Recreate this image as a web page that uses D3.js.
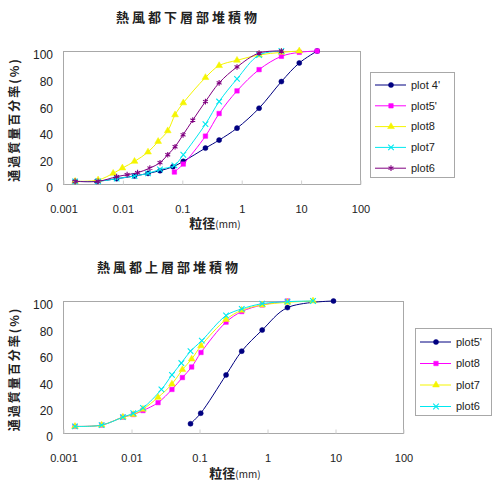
<!DOCTYPE html>
<html>
<head>
<meta charset="utf-8">
<script src="https://cdn.jsdelivr.net/npm/d3@7"></script>
<style>
  body { margin: 0; background: #fff; }
  svg text { font-family: "Liberation Sans", Arial, sans-serif; fill: #222; }
  .cjk { font-family: "Noto Sans CJK JP", "Noto Sans", sans-serif; }
</style>
</head>
<body>
<div id="wrapper"></div>
<script>
// upper chart (下層部)
const topTitle = '熱風都下層部堆積物';
const topNames = ["plot 4'", "plot5'", 'plot8', 'plot7', 'plot6'];
const topSize4 = [0.0016, 0.0037, 0.008, 0.016, 0.027, 0.043, 0.071, 0.106, 0.25, 0.425, 0.85, 2, 4.75, 9.5, 19];
const topPass4 = [2, 2, 4, 6, 8, 10, 13, 17, 27, 33, 42, 57, 77, 91, 100];
const topSize5 = [0.075, 0.106, 0.25, 0.425, 0.85, 2, 4.75, 9.5, 19];
const topPass5 = [9, 15, 36, 53, 70, 86, 96, 99, 100];
const topSize8 = [0.0016, 0.0039, 0.007, 0.01, 0.016, 0.027, 0.04, 0.058, 0.077, 0.106, 0.25, 0.425, 0.85, 2, 4.75, 9.5];
const topPass8 = [2, 3, 8, 12, 17, 24, 32, 40, 52, 61, 80, 89, 93, 97, 99, 100];
const topSize7 = [0.0016, 0.0039, 0.008, 0.016, 0.027, 0.043, 0.075, 0.106, 0.25, 0.425, 0.85, 2, 4.75];
const topPass7 = [2, 2, 4, 6, 8, 11, 14, 22, 45, 62, 79, 97, 100];
const topSize6 = [0.0016, 0.0039, 0.008, 0.012, 0.018, 0.029, 0.043, 0.058, 0.077, 0.105, 0.153, 0.25, 0.425, 0.85, 2, 4.75];
const topPass6 = [2, 2, 5.5, 7, 8.5, 12, 16, 22, 28, 37, 48, 62, 76, 88, 98.5, 100];

// lower chart (上層部)
const bottomTitle = '熱風都上層部堆積物';
const bottomNames = ["plot5'", 'plot8', 'plot7', 'plot6'];
const botSize5 = [0.075, 0.106, 0.25, 0.425, 0.85, 2, 9.5];
const botPass5 = [7, 15, 44, 62, 78, 95, 100];
const botSize8 = [0.0015, 0.0037, 0.0076, 0.0108, 0.015, 0.025, 0.04, 0.057, 0.078, 0.107, 0.25, 0.425, 0.85, 2];
const botPass8 = [5, 6, 12, 14, 17, 23, 33, 42, 50, 61, 84, 92, 97, 100];
const botSize7 = [0.0015, 0.0037, 0.0076, 0.0108, 0.015, 0.025, 0.04, 0.057, 0.078, 0.107, 0.25, 0.425, 0.85, 2, 4.75];
const botPass7 = [5, 6, 12, 14, 18, 27, 37, 48, 56, 66, 86, 93, 97, 99, 100];
const botSize6 = [0.0015, 0.0037, 0.0076, 0.0108, 0.015, 0.028, 0.04, 0.055, 0.075, 0.11, 0.25, 0.425, 0.85, 2, 4.75];
const botPass6 = [5, 6, 12, 15, 19, 33, 44, 53, 62, 70, 89, 94, 98, 99.5, 100];

const xTicks = [0.001, 0.01, 0.1, 1, 10, 100];
const yTicks = [0, 20, 40, 60, 80, 100];
const yTitle = '通過質量百分率(%)';

// excel default series look
const navy = { color: '#000080', symbol: d3.symbolCircle, fill: true };
const magenta = { color: '#ff00ff', symbol: d3.symbolSquare, fill: true };
const yellow = { color: '#f5f500', symbol: d3.symbolTriangle, fill: true };
const cyan = { color: '#00e8f0', symbol: d3.symbolTimes, fill: false };
const purple = { color: '#800080', symbol: d3.symbolAsterisk, fill: false };

const zip = (xs, ys) => xs.map((x, i) => ({ x: x, y: ys[i] }));

const svg = d3.select('#wrapper')
    .append('svg')
    .attr('width', 497)
    .attr('height', 492);

function drawChart(cfg) {
    const x = d3.scaleLog()
        .domain([0.001, 100])
        .range([cfg.left, cfg.right]);
    const y = d3.scaleLinear()
        .domain([0, 100])
        .range([cfg.bottom, cfg.top]);

    const g = svg.append('g');

    // title
    g.append('text')
        .attr('class', 'cjk')
        .attr('x', cfg.titleX)
        .attr('y', cfg.titleY)
        .attr('text-anchor', 'middle')
        .attr('font-size', 13)
        .attr('font-weight', 'bold')
        .attr('letter-spacing', 3)
        .attr('fill', '#444')
        .text(cfg.title);

    // plot frame
    g.append('rect')
        .attr('x', cfg.left + 0.5)
        .attr('y', cfg.top + 0.5)
        .attr('width', cfg.right - cfg.left)
        .attr('height', cfg.bottom - cfg.top)
        .attr('fill', '#fff')
        .attr('stroke', '#a8a8a8');

    // x axis
    const xAxis = g.append('g')
        .attr('transform', `translate(0.5, ${cfg.bottom + 0.5})`)
        .call(d3.axisBottom(x).tickValues(xTicks).tickFormat(d => String(d)).tickSize(-4).tickPadding(21));
    xAxis.select('.domain').remove();
    xAxis.selectAll('line').attr('stroke', '#d0d0d0');
    xAxis.selectAll('text')
        .attr('font-size', 11)
        .attr('fill', '#333')
        .style('font-family', '"Liberation Sans", Arial, sans-serif');

    // y axis
    const yAxis = g.append('g')
        .attr('transform', `translate(${cfg.left}, 4)`)
        .call(d3.axisLeft(y).tickValues(yTicks).tickSize(0).tickPadding(10));
    yAxis.select('.domain').remove();
    yAxis.selectAll('text')
        .attr('font-size', 12)
        .attr('fill', '#333')
        .style('font-family', '"Liberation Sans", Arial, sans-serif');

    // axis titles
    g.append('text')
        .attr('class', 'cjk')
        .attr('transform', `translate(19, ${(cfg.top + cfg.bottom) / 2 + 2}) rotate(-90)`)
        .attr('text-anchor', 'middle')
        .attr('font-size', 12)
        .attr('font-weight', 'bold')
        .attr('letter-spacing', 2)
        .attr('fill', '#333')
        .text(yTitle);

    const xt = g.append('text')
        .attr('class', 'cjk')
        .attr('x', cfg.xTitleX)
        .attr('y', cfg.xTitleY)
        .attr('text-anchor', 'middle')
        .attr('fill', '#333');
    xt.append('tspan').attr('font-size', 13).attr('font-weight', 'bold').text('粒径');
    xt.append('tspan').attr('font-size', 10).text('(mm)');

    // series
    const line = d3.line()
        .x(d => x(d.x))
        .y(d => y(d.y))
        .curve(d3.curveCatmullRom.alpha(0.5));

    const mark = s => d3.symbol().type(s.symbol).size(s.fill ? 20 : 22);

    cfg.series.forEach(s => {
        const sg = g.append('g');
        sg.append('path')
            .datum(s.points)
            .attr('d', line)
            .attr('fill', 'none')
            .attr('stroke', s.style.color)
            .attr('stroke-width', 1);
        sg.selectAll('path.mark')
            .data(s.points)
            .join('path')
            .attr('class', 'mark')
            .attr('transform', d => `translate(${x(d.x)}, ${y(d.y)})`)
            .attr('d', mark(s.style))
            .attr('fill', s.style.fill ? s.style.color : 'none')
            .attr('stroke', s.style.color)
            .attr('stroke-width', s.style.fill ? 0.5 : 1.1);
    });

    // legend
    const lg = g.append('g');
    lg.append('rect')
        .attr('x', cfg.legend.x + 0.5)
        .attr('y', cfg.legend.y + 0.5)
        .attr('width', cfg.legend.w)
        .attr('height', cfg.legend.h)
        .attr('fill', '#fff')
        .attr('stroke', '#a8a8a8');

    const items = lg.selectAll('g.item')
        .data(cfg.series)
        .join('g')
        .attr('class', 'item')
        .attr('transform', (d, i) => `translate(${cfg.legend.x}, ${cfg.legend.y + cfg.legend.first + i * cfg.legend.step})`);
    items.append('line')
        .attr('x1', 5).attr('x2', 36)
        .attr('stroke', d => d.style.color);
    items.append('path')
        .attr('transform', 'translate(21, 0)')
        .attr('d', d => mark(d.style)())
        .attr('fill', d => d.style.fill ? d.style.color : 'none')
        .attr('stroke', d => d.style.color)
        .attr('stroke-width', d => d.style.fill ? 0.5 : 1.1);
    items.append('text')
        .attr('x', 41)
        .attr('dy', '0.35em')
        .attr('font-size', 11)
        .attr('fill', '#333')
        .text(d => d.name);
}

drawChart({
    title: topTitle, titleX: 188, titleY: 22,
    left: 63, right: 360, top: 51, bottom: 184,
    xTitleX: 215, xTitleY: 228,
    legend: { x: 370, y: 72, w: 84, h: 105, first: 13, step: 20.8 },
    series: [
        { name: topNames[0], style: navy, points: zip(topSize4, topPass4) },
        { name: topNames[1], style: magenta, points: zip(topSize5, topPass5) },
        { name: topNames[2], style: yellow, points: zip(topSize8, topPass8) },
        { name: topNames[3], style: cyan, points: zip(topSize7, topPass7) },
        { name: topNames[4], style: purple, points: zip(topSize6, topPass6) },
    ],
});

drawChart({
    title: bottomTitle, titleX: 169, titleY: 272,
    left: 63, right: 403, top: 301, bottom: 433,
    xTitleX: 235, xTitleY: 478,
    legend: { x: 415, y: 328, w: 76, h: 87, first: 14, step: 21.5 },
    series: [
        { name: bottomNames[0], style: navy, points: zip(botSize5, botPass5) },
        { name: bottomNames[1], style: magenta, points: zip(botSize8, botPass8) },
        { name: bottomNames[2], style: yellow, points: zip(botSize7, botPass7) },
        { name: bottomNames[3], style: cyan, points: zip(botSize6, botPass6) },
    ],
});
</script>
</body>
</html>
